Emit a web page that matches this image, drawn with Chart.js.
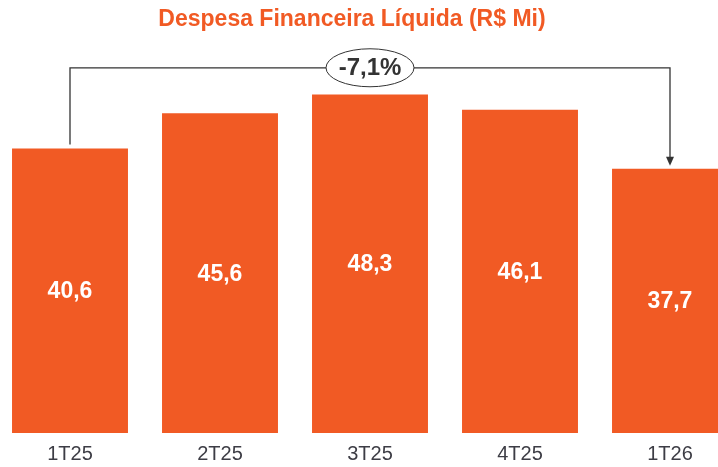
<!DOCTYPE html>
<html>
<head>
<meta charset="utf-8">
<script src="https://cdn.jsdelivr.net/npm/chart.js@4"></script>
<style>
  html, body { margin: 0; padding: 0; background: #fff; overflow: hidden; width: 718px; height: 467px; }
  #wrap { position: absolute; left: -5px; top: 0; width: 750px; height: 467px; }
  #title { position: absolute; left: 0; top: 5px; width: 704px; text-align: center;
    font-family: "Liberation Sans Narrow", "Arial Narrow", Arial, sans-serif; font-weight: bold;
    font-size: 23px; color: #F15A24; z-index: 2; }
</style>
</head>
<body>
<div id="title">Despesa Financeira Líquida (R$ Mi)</div>
<div id="wrap"><canvas id="c" width="750" height="467"></canvas></div>
<script>
const categories = ["1T25", "2T25", "3T25", "4T25", "1T26"];
const values = [40.6, 45.6, 48.3, 46.1, 37.7];

const ORANGE = "#F15A24";
const FONT = '"Liberation Sans Narrow", "Arial Narrow", Arial, sans-serif';

function fmt(v, d) {
  return v.toFixed(d).replace(".", ",");
}

const changePct = (values[values.length - 1] / values[0] - 1) * 100;

// rótulos brancos dentro das barras + seta de variação
const overlay = {
  id: "overlay",
  afterDatasetsDraw(chart) {
    const ctx = chart.ctx;
    const meta = chart.getDatasetMeta(0);
    ctx.save();
    ctx.fillStyle = "#fff";
    ctx.font = "bold 23px " + FONT;
    ctx.textAlign = "center";
    ctx.textBaseline = "middle";
    meta.data.forEach((bar, i) => {
      ctx.fillText(fmt(values[i], 1), bar.x, (bar.y + bar.base) / 2 + 1);
    });

    const first = meta.data[0];
    const last = meta.data[meta.data.length - 1];
    const yLine = chart.scales.y.getPixelForValue(52.1);
    ctx.strokeStyle = "#333";
    ctx.fillStyle = "#333";
    ctx.lineWidth = 1.3;
    ctx.beginPath();
    ctx.moveTo(first.x, first.y - 4);
    ctx.lineTo(first.x, yLine);
    ctx.lineTo(last.x, yLine);
    ctx.lineTo(last.x, last.y - 10);
    ctx.stroke();
    ctx.beginPath();
    ctx.moveTo(last.x - 4, last.y - 12);
    ctx.lineTo(last.x + 4, last.y - 12);
    ctx.lineTo(last.x, last.y - 3);
    ctx.closePath();
    ctx.fill();

    const cx = (first.x + last.x) / 2;
    ctx.beginPath();
    ctx.ellipse(cx, yLine, 44, 19, 0, 0, Math.PI * 2);
    ctx.fillStyle = "#fff";
    ctx.fill();
    ctx.lineWidth = 1;
    ctx.stroke();
    ctx.fillStyle = "#333";
    ctx.font = "bold 24px " + FONT;
    ctx.fillText(fmt(changePct, 1) + "%", cx, yLine + 1);
    ctx.restore();
  }
};

new Chart(document.getElementById("c"), {
  type: "bar",
  data: {
    labels: categories,
    datasets: [{
      data: values,
      backgroundColor: ORANGE,
      borderWidth: 0,
      barPercentage: 0.773,
      categoryPercentage: 1
    }]
  },
  options: {
    responsive: false,
    animation: false,
    layout: { padding: { top: 12.4, left: 0, right: 0, bottom: 0 } },
    plugins: { legend: { display: false }, tooltip: { enabled: false } },
    scales: {
      x: {
        grid: { display: false },
        border: { display: false },
        ticks: { color: "#3d3d45", font: { family: FONT, size: 20 }, padding: 1 },
        afterFit: (s) => { s.height = 34; }
      },
      y: { display: false, min: 0, max: 60 }
    }
  },
  plugins: [overlay]
});
</script>
</body>
</html>
